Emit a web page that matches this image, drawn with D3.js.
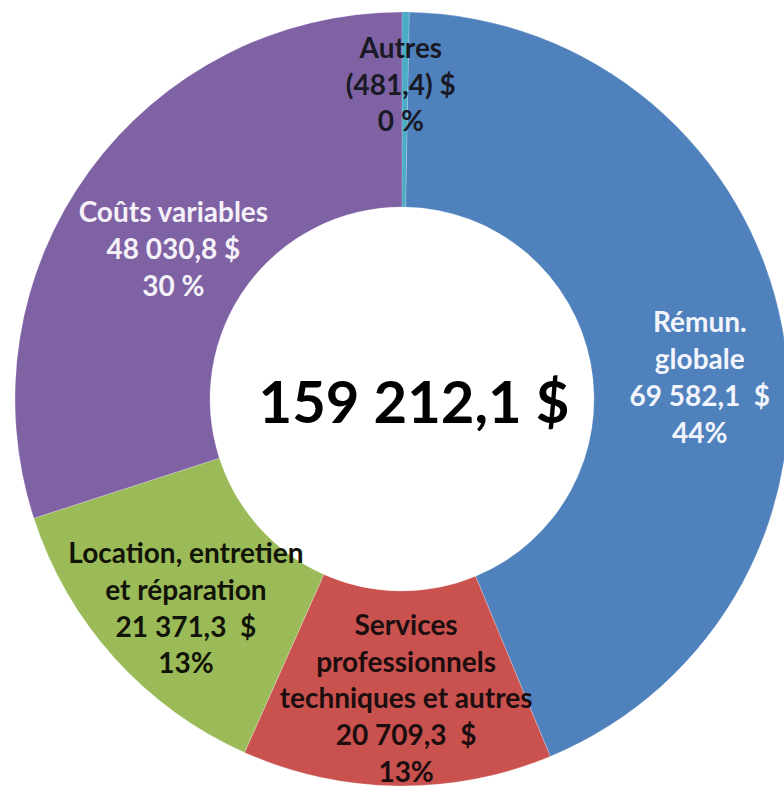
<!DOCTYPE html>
<html>
<head>
<meta charset="utf-8">
<script src="https://cdn.jsdelivr.net/npm/d3@7"></script>
<style>
  body { margin: 0; background: #fff; }
  svg text { font-family: Lato, "Open Sans", sans-serif; font-weight: bold; white-space: pre; }
</style>
</head>
<body>
<div class="canvas"></div>
<script>
// data
const categories = ['Autres', 'Rémun. globale', 'Services professionnels techniques et autres', 'Location, entretien et réparation', 'Coûts variables'];
const values = [-481.4, 69582.1, 20709.3, 21371.3, 48030.8];
const labelLines = [
  ['Autres', '(481,4) $', '0 %'],
  ['Rémun.', 'globale', '69 582,1  $', '44%'],
  ['Services', 'professionnels', 'techniques et autres', '20 709,3  $', '13%'],
  ['Location, entretien', 'et réparation', '21 371,3  $', '13%'],
  ['Coûts variables', '48 030,8 $', '30 %']
];
const totalLabel = '159 212,1 $';

// styling / layout
const colors = ['#4bacc6', '#4f81bd', '#c9514e', '#9bbb59', '#7f62a4'];
const textColors = ['#1a1a26', '#f2f5fb', '#1c0e0e', '#121408', '#f5f1f9'];
const labelNudge = [[-4, -14], [3, 35], [8, 0], [7, 9], [14, 27]];

const dims = { width: 784, height: 791 };
const cx = 402, cy = 399;
const outerR = 387, innerR = 192;
const lineH = 36.8;

const svg = d3.select('.canvas')
  .append('svg')
  .attr('width', dims.width)
  .attr('height', dims.height);

const graph = svg.append('g').attr('transform', `translate(${cx}, ${cy})`);

const pie = d3.pie()
  .sort(null)
  .value(d => Math.abs(d));

const arc = d3.arc().innerRadius(innerR).outerRadius(outerR);
const labelArc = d3.arc().innerRadius(300).outerRadius(300);

const slices = pie(values);

graph.selectAll('.slice')
  .data(slices)
  .enter()
  .append('path')
    .attr('class', 'slice')
    .attr('fill', (d, i) => colors[i])
    .attr('stroke', (d, i) => i === 0 ? 'none' : 'rgba(255,255,255,0.3)')
    .attr('stroke-width', 0.8)
    .attr('d', arc);

// data labels
const labels = graph.selectAll('.label')
  .data(slices)
  .enter()
  .append('text')
    .attr('class', 'label')
    .attr('text-anchor', 'middle')
    .attr('font-size', 28)
    .attr('fill', (d, i) => textColors[i])
    .attr('transform', (d, i) => {
      const [x, y] = labelArc.centroid(d);
      return `translate(${x + labelNudge[i][0]}, ${y + labelNudge[i][1]})`;
    });

labels.each(function(d, i) {
  const lines = labelLines[i];
  const n = lines.length;
  d3.select(this).selectAll('tspan')
    .data(lines)
    .enter()
    .append('tspan')
      .attr('x', 0)
      .attr('y', (t, j) => (j - (n - 1) / 2) * lineH + 9.5)
      .text(t => t);
});

// total in the hole
graph.append('text')
  .attr('text-anchor', 'middle')
  .attr('x', 12)
  .attr('y', 24)
  .attr('font-size', 58)
  .attr('fill', '#000')
  .text(totalLabel);
</script>
</body>
</html>
